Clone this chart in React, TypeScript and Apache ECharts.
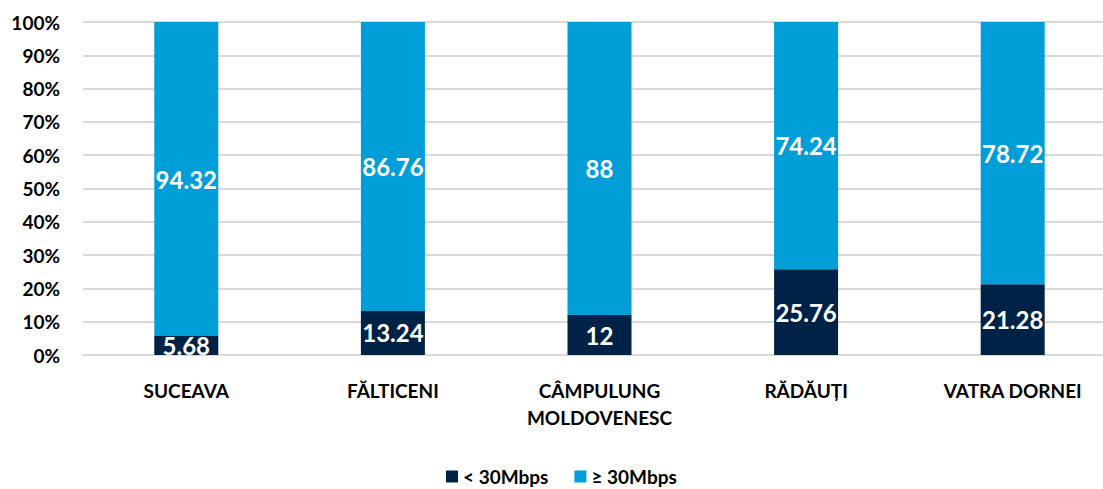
import React, { useEffect, useRef } from "react";
import * as echarts from "echarts";

const categories = ["SUCEAVA", "FĂLTICENI", "CÂMPULUNG\nMOLDOVENESC", "RĂDĂUȚI", "VATRA DORNEI"];
const below30 = [5.68, 13.24, 12, 25.76, 21.28];
const above30 = [94.32, 86.76, 88, 74.24, 78.72];
const seriesNames = ["< 30Mbps", "≥ 30Mbps"];
const yTicks = { min: 0, max: 100, interval: 10 };

const FONT = "Lato, 'Open Sans', sans-serif";

export default function App() {
  const ref = useRef<HTMLDivElement>(null);
  useEffect(() => {
    document.body.style.margin = "0";
    const chart = echarts.init(ref.current!, undefined, { renderer: "svg" });
    chart.setOption({
      animation: false,
      textStyle: { fontFamily: FONT },
      grid: { left: 83, right: 0, top: 22, bottom: 134 },
      legend: {
        top: 467,
        left: 446,
        padding: 0,
        itemWidth: 12,
        itemHeight: 12,
        itemGap: 26,
        icon: "rect",
        textStyle: { fontFamily: FONT, fontWeight: "bold", fontSize: 19, color: "#000" },
        data: seriesNames,
      },
      xAxis: {
        type: "category",
        data: categories,
        axisTick: { show: false },
        axisLine: { lineStyle: { color: "#d9d9d9", width: 2 } },
        axisLabel: {
          color: "#000",
          fontWeight: "bold",
          fontSize: 19,
          fontFamily: FONT,
          margin: 22,
          lineHeight: 27,
          interval: 0,
        },
      },
      yAxis: {
        type: "value",
        min: yTicks.min,
        max: yTicks.max,
        interval: yTicks.interval,
        axisLine: { show: false },
        axisTick: { show: false },
        splitLine: { lineStyle: { color: "#d9d9d9", width: 2 } },
        axisLabel: {
          formatter: "{value}%",
          color: "#000",
          fontWeight: "bold",
          fontSize: 19,
          fontFamily: FONT,
          margin: 23,
        },
      },
      series: [
        {
          name: seriesNames[0],
          type: "bar",
          stack: "total",
          barWidth: 64,
          data: below30,
          itemStyle: { color: "#012247" },
          label: {
            show: true,
            position: "inside",
            color: "#fff",
            fontWeight: "bold",
            fontSize: 24,
            fontFamily: FONT,
          },
        },
        {
          name: seriesNames[1],
          type: "bar",
          stack: "total",
          barWidth: 64,
          data: above30,
          itemStyle: { color: "#009ED9" },
          label: {
            show: true,
            position: "inside",
            color: "#fff",
            fontWeight: "bold",
            fontSize: 24,
            fontFamily: FONT,
          },
        },
      ],
    });
    return () => chart.dispose();
  }, []);
  return (
    <div style={{ width: 1103, height: 489, overflow: "hidden" }}>
      <div ref={ref} style={{ width: 1116, height: 489 }} />
    </div>
  );
}
